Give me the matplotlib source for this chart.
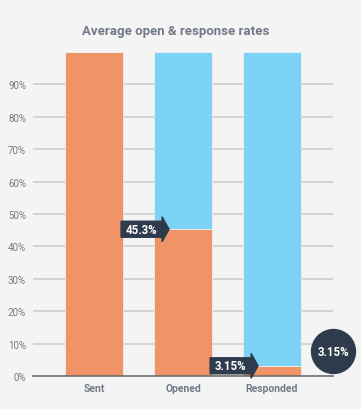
import matplotlib
matplotlib.use('Agg')
import matplotlib.pyplot as plt
from matplotlib.patches import Polygon

plt.rcParams['font.family'] = ['Roboto', 'DejaVu Sans']

# data
stages = ['Sent', 'Opened', 'Responded']
rate = [100, 45.3, 3.15]          # orange part
rest = [0, 54.7, 96.85]           # blue part
labels = ['', '45.3%', '3.15%']
yticks = [0, 10, 20, 30, 40, 50, 60, 70, 80, 90]

orange = '#f09467'
blue = '#7dd3f5'
dark = '#2e3b4c'
grey_txt = '#727a86'
bg = '#f4f4f4'

fig = plt.figure(figsize=(3.61, 4.10), dpi=100, facecolor=bg)
ax = fig.add_axes([33 / 361, 33 / 410, 300 / 361, 324 / 410])
ax.set_facecolor(bg)

x = list(range(len(stages)))
w = 0.65
ax.bar(x, rate, width=w, color=orange, edgecolor='#eeeeee', linewidth=0.6, zorder=3)
ax.bar(x, rest, width=w, bottom=rate, color=blue, edgecolor='#eeeeee', linewidth=0.6, zorder=3)

ax.set_xlim(-0.685, 2.685)
ax.set_ylim(0, 100)
ax.set_yticks(yticks)
ax.set_yticklabels([f'{t}%' for t in yticks], color=grey_txt, fontsize=7)
ax.set_xticks(x)
ax.set_xticklabels(stages, color=grey_txt, fontsize=7.5, fontweight='bold')
ax.tick_params(length=0, pad=5)
for t in yticks[1:]:
    ax.axhline(t, color='#c9c9c9', lw=1.1, zorder=1)
for s in ['top', 'right', 'left']:
    ax.spines[s].set_visible(False)
ax.spines['bottom'].set_color('#6e6e6e')
ax.spines['bottom'].set_linewidth(1.2)
ax.spines['bottom'].set_zorder(4)

# arrow labels pointing at the orange level
ux = 1 / 89.0      # data units per pixel horizontally
uy = 100 / 324.0   # data units per pixel vertically
for i, (v, lab) in enumerate(zip(rate, labels)):
    if not lab:
        continue
    tip = i - w / 2 + 15 * ux
    bx1 = tip - 7 * ux
    bx0 = bx1 - 41 * ux
    h = 8 * uy
    hh = 12.5 * uy
    pts = [(bx0, v - h), (bx0, v + h), (bx1, v + h), (bx1, v + hh),
           (tip, v), (bx1, v - hh), (bx1, v - h)]
    ax.add_patch(Polygon(pts, closed=True, color=dark, zorder=5, clip_on=False))
    ax.text((bx0 + bx1) / 2, v, lab, color='white', fontsize=8.3, fontweight='bold',
            ha='center', va='center', zorder=6, clip_on=False)

# circle badge
ax.scatter([2.685], [rate[2] + 4.55], s=1000, color=dark, zorder=5, clip_on=False)
ax.text(2.685, rate[2] + 4.55, labels[2], color='white', fontsize=8.3, fontweight='bold',
        ha='center', va='center', zorder=6, clip_on=False)

fig.text(176 / 361, 1 - 31 / 410, 'Average open & response rates', ha='center', va='center',
         color=grey_txt, fontsize=9.5, fontweight='bold')

fig.savefig('out.png', dpi=100, facecolor=bg)
